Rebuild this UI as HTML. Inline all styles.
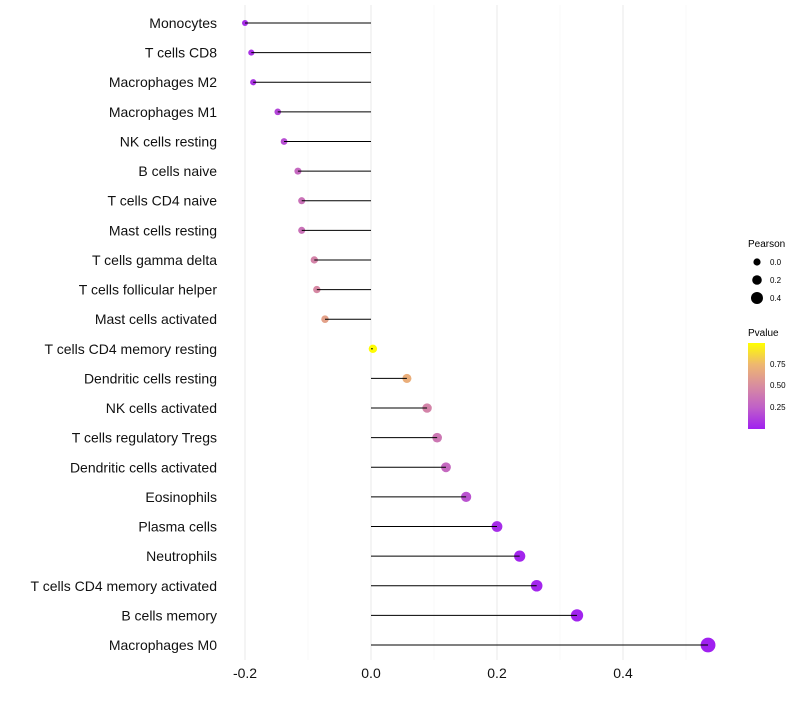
<!DOCTYPE html>
<html><head><meta charset="utf-8"><style>
body{margin:0;background:#fff;font-family:"Liberation Sans",sans-serif}
</style></head><body>
<svg id="chart" width="800" height="700" xmlns="http://www.w3.org/2000/svg" font-family="Liberation Sans, sans-serif">
<defs><linearGradient id="pg" x1="0" y1="1" x2="0" y2="0">
<stop offset="0" stop-color="#a020f0"/><stop offset="0.25" stop-color="#c060c8"/><stop offset="0.5" stop-color="#d88ca0"/><stop offset="0.75" stop-color="#eeb770"/><stop offset="1" stop-color="#ffff00"/></linearGradient></defs>
<g id="grid"></g><g id="marks"></g><g id="stems"></g><g id="labels"></g>
<g>
<text x="748" y="247" font-size="10">Pearson</text>
<circle cx="757" cy="262" r="3.6" fill="#000"/><text x="770" y="265" font-size="8">0.0</text>
<circle cx="757" cy="280" r="4.8" fill="#000"/><text x="770" y="283" font-size="8">0.2</text>
<circle cx="757" cy="298" r="6" fill="#000"/><text x="770" y="301" font-size="8">0.4</text>
<text x="748" y="336" font-size="10">Pvalue</text>
<rect x="748" y="343" width="17" height="86" fill="url(#pg)"/>
<text x="770" y="367" font-size="8">0.75</text>
<text x="770" y="388" font-size="8">0.50</text>
<text x="770" y="410" font-size="8">0.25</text>
</g>
</svg>
<script>
const categories=["Monocytes","T cells CD8","Macrophages M2","Macrophages M1","NK cells resting","B cells naive","T cells CD4 naive","Mast cells resting","T cells gamma delta","T cells follicular helper","Mast cells activated","T cells CD4 memory resting","Dendritic cells resting","NK cells activated","T cells regulatory  Tregs ","Dendritic cells activated","Eosinophils","Plasma cells","Neutrophils","T cells CD4 memory activated","B cells memory","Macrophages M0"];
const pearson=[-0.2,-0.19,-0.187,-0.148,-0.138,-0.116,-0.11,-0.11,-0.09,-0.086,-0.073,0.003,0.057,0.089,0.105,0.119,0.151,0.2,0.236,0.263,0.327,0.535];
const pvalue=[0.05,0.07,0.08,0.15,0.18,0.3,0.35,0.35,0.45,0.48,0.62,0.99,0.7,0.45,0.38,0.3,0.2,0.05,0.02,0.02,0.01,0.001];
const xTicks=[-0.2,0.0,0.2,0.4];
const xTickLabels=["-0.2","0.0","0.2","0.4"];
const minorTicks=[-0.1,0.1,0.3,0.5];
const NS="http://www.w3.org/2000/svg";
const x=v=>371+630*v;
const y=i=>23+i*(622/21);
function mk(t,a,p){const e=document.createElementNS(NS,t);for(const k in a)e.setAttribute(k,a[k]);p.appendChild(e);return e;}
const stops=[[0,[160,32,240]],[0.25,[192,96,200]],[0.5,[216,140,160]],[0.75,[238,183,112]],[1,[255,255,0]]];
function col(p){for(let i=1;i<stops.length;i++){if(p<=stops[i][0]){const a=stops[i-1],b=stops[i],t=(p-a[0])/(b[0]-a[0]);return "rgb("+a[1].map((c,j)=>Math.round(c+(b[1][j]-c)*t)).join(",")+")";}}return "rgb(255,255,0)";}
const g=document.getElementById('grid'),m=document.getElementById('marks'),st=document.getElementById('stems'),l=document.getElementById('labels');
minorTicks.forEach(v=>{const e=mk('line',{x1:x(v),x2:x(v),y1:5,y2:660,stroke:'#f4f4f4','stroke-width':0.6},g);

});
xTicks.forEach((v,i)=>{const e=mk('line',{x1:x(v),x2:x(v),y1:5,y2:660,stroke:'#ebebeb','stroke-width':1.1},g);


const t=mk('text',{x:x(v),y:678,'font-size':14,'text-anchor':'middle',fill:'#111'},l);t.textContent=xTickLabels[i];

});
categories.forEach((c,i)=>{const yy=y(i);
const r=Math.max(1.8,4.2+6*pearson[i]);
const d=mk('circle',{cx:x(pearson[i]),cy:yy,r:r,fill:col(pvalue[i])},m);


const s=mk('line',{x1:x(0),x2:x(pearson[i]),y1:yy,y2:yy,stroke:'#000','stroke-width':1},st);


const t=mk('text',{x:217,y:yy+5,'font-size':14,'text-anchor':'end',fill:'#111'},l);t.textContent=c;

});
</script>
</body></html>
